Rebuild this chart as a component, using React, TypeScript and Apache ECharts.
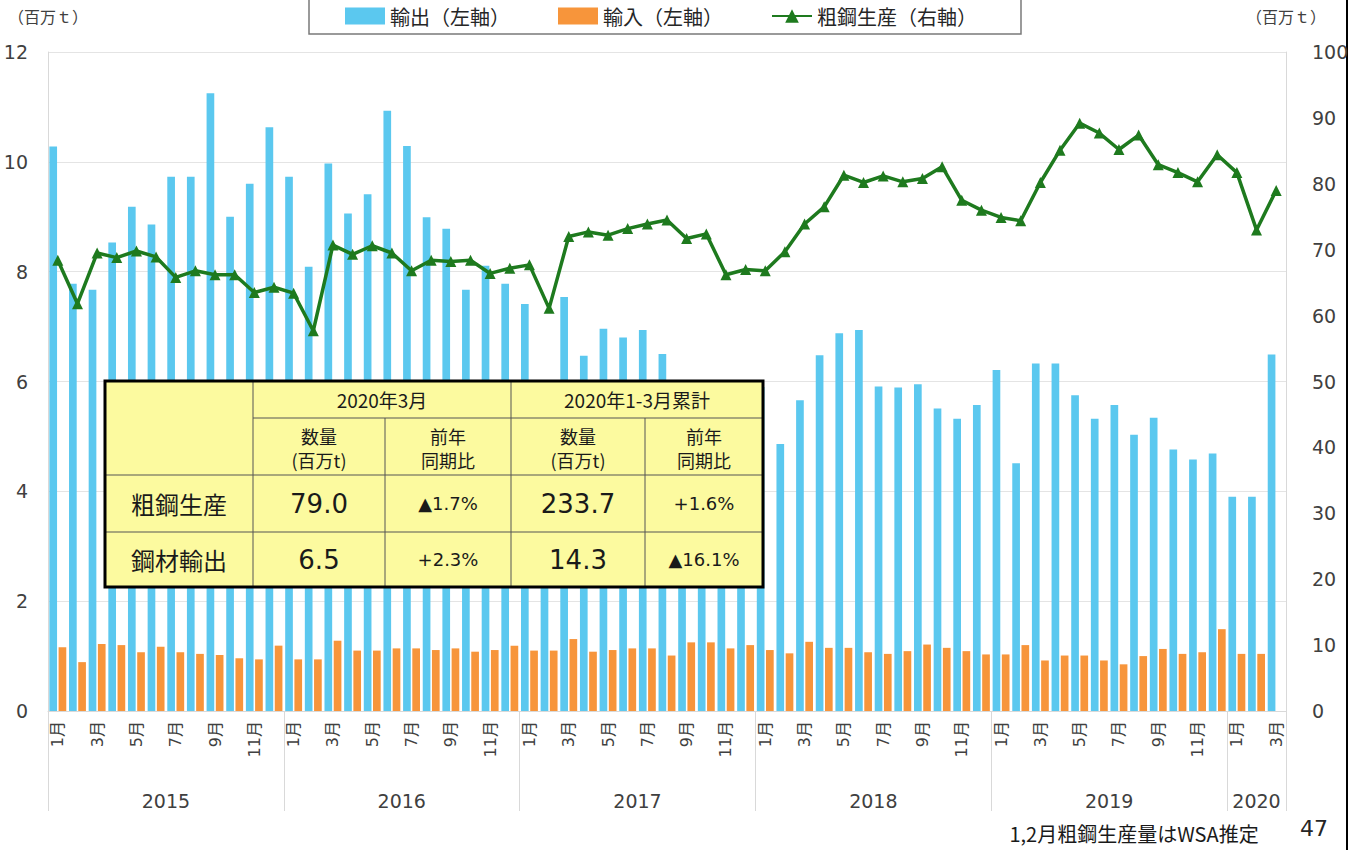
import React, { useEffect, useRef } from "react";
import * as echarts from "echarts";

// ---- data ----
const years = ["2015", "2016", "2017", "2018", "2019", "2020"];
const monthsPerYear = [12, 12, 12, 12, 12, 3];

// 鋼材輸出 (百万t, left axis)
const exportsData = [
  10.28, 7.78, 7.67, 8.53, 9.18, 8.86, 9.73, 9.73, 11.25, 9.0, 9.6, 10.63,
  9.73, 8.09, 9.97, 9.06, 9.41, 10.93, 10.29, 8.99, 8.78, 7.67, 8.11, 7.78,
  7.41, 5.6, 7.54, 6.47, 6.96, 6.8, 6.94, 6.5, 5.6, 5.9, 5.1, 4.6,
  5.9, 4.86, 5.66, 6.48, 6.88, 6.94, 5.91, 5.89, 5.95, 5.51, 5.32, 5.57,
  6.21, 4.51, 6.33, 6.33, 5.75, 5.32, 5.57, 5.03, 5.34, 4.76, 4.58, 4.69,
  3.9, 3.9, 6.49,
];

// 鋼材輸入 (百万t, left axis)
const importsData = [
  1.16, 0.89, 1.22, 1.2, 1.07, 1.17, 1.07, 1.04, 1.02, 0.96, 0.94, 1.19,
  0.94, 0.94, 1.28, 1.1, 1.1, 1.14, 1.14, 1.11, 1.14, 1.08, 1.11, 1.19,
  1.1, 1.1, 1.31, 1.08, 1.11, 1.14, 1.14, 1.01, 1.25, 1.25, 1.14, 1.2,
  1.11, 1.05, 1.26, 1.15, 1.15, 1.07, 1.04, 1.09, 1.21, 1.15, 1.09, 1.03,
  1.03, 1.2, 0.92, 1.01, 1.01, 0.92, 0.85, 1.0, 1.13, 1.04, 1.07, 1.49,
  1.04, 1.04, null,
];

// 粗鋼生産 (百万t, right axis)
const productionData = [
  68.4, 61.8, 69.5, 68.8, 69.8, 68.9, 65.8, 66.8, 66.2, 66.2, 63.5, 64.3,
  63.4, 57.7, 70.7, 69.3, 70.6, 69.5, 66.8, 68.4, 68.2, 68.4, 66.4, 67.2,
  67.7, 61.1, 72.0, 72.7, 72.2, 73.2, 73.9, 74.5, 71.7, 72.4, 66.2, 67.0,
  66.8, 69.7, 73.9, 76.5, 81.3, 80.2, 81.2, 80.3, 80.8, 82.6, 77.5, 76.0,
  74.9, 74.4, 80.2, 85.1, 89.2, 87.7, 85.2, 87.4, 82.9, 81.7, 80.3, 84.4,
  81.7, 73.0, 79.0,
];

const seriesNames = ["輸出（左軸）", "輸入（左軸）", "粗鋼生産（右軸）"];

// summary table
const tableHeader1 = ["2020年3月", "2020年1-3月累計"];
const tableHeader2 = ["数量\n(百万t)", "前年\n同期比", "数量\n(百万t)", "前年\n同期比"];
const tableRowLabels = ["粗鋼生産", "鋼材輸出"];
const tableRowValues = [
  ["79.0", "▲1.7%", "233.7", "+1.6%"],
  ["6.5", "+2.3%", "14.3", "▲16.1%"],
];

const unitLabel = "（百万ｔ）";
const noteText = "1,2月粗鋼生産量はWSA推定";
const pageNumber = "47";

// categories built from years / month counts
const categories: string[] = [];
years.forEach((y, yi) => {
  for (let m = 1; m <= monthsPerYear[yi]; m++) categories.push(`${y}/${m}`);
});
const yearBounds: number[] = [0];
monthsPerYear.forEach((n) => yearBounds.push(yearBounds[yearBounds.length - 1] + n));
const yearCenters = years.map((_, i) => (yearBounds[i] + yearBounds[i + 1]) / 2);

const NUM_FONT = "'DejaVu Sans', 'Noto Sans CJK JP', sans-serif";
const JP_FONT = "'Noto Sans CJK JP', sans-serif";
const CYAN = "#5BC8EF";
const ORANGE = "#F7953B";
const GREEN = "#1E7A1E";
const AXIS_GRAY = "#d9d9d9";
const TEXT = "#404040";
const TABLE_Z = 100;

function buildTable() {
  const cols = [105, 253, 385, 511, 645, 763];
  const rows = [381, 418, 475, 532, 587];
  const els: any[] = [];
  els.push({
    type: "rect",
    z: TABLE_Z,
    shape: { x: cols[0], y: rows[0], width: cols[5] - cols[0], height: rows[4] - rows[0] },
    style: { fill: "#FCFA9F", stroke: null },
  });
  const inner = { stroke: "#555", lineWidth: 1 };
  const vl = (x: number, y1: number, y2: number) =>
    els.push({ type: "line", z: TABLE_Z + 1, shape: { x1: x, y1, x2: x, y2 }, style: inner });
  const hl = (y: number, x1: number, x2: number) =>
    els.push({ type: "line", z: TABLE_Z + 1, shape: { x1, y1: y, x2, y2: y }, style: inner });
  vl(cols[1], rows[0], rows[4]);
  vl(cols[2], rows[1], rows[4]);
  vl(cols[3], rows[0], rows[4]);
  vl(cols[4], rows[1], rows[4]);
  hl(rows[1], cols[1], cols[5]);
  hl(rows[2], cols[0], cols[5]);
  hl(rows[3], cols[0], cols[5]);
  const txt = (t: string, x: number, y: number, fs: number, font = NUM_FONT, lh?: number) =>
    els.push({
      type: "text",
      z: TABLE_Z + 2,
      x,
      y,
      style: {
        text: t,
        fontSize: fs,
        fontFamily: font,
        fill: "#1a1a1a",
        align: "center",
        verticalAlign: "middle",
        lineHeight: lh || fs * 1.2,
      },
    });
  const cx = (i: number) => (cols[i] + cols[i + 1]) / 2;
  const cy = (i: number) => (rows[i] + rows[i + 1]) / 2;
  txt(tableHeader1[0], (cols[1] + cols[3]) / 2, cy(0), 19, JP_FONT);
  txt(tableHeader1[1], (cols[3] + cols[5]) / 2, cy(0), 19, JP_FONT);
  tableHeader2.forEach((t, i) => txt(t, cx(i + 1), cy(1) + 1, 18, JP_FONT, 24));
  tableRowLabels.forEach((t, r) => {
    txt(t, cx(0), cy(2 + r), 24, JP_FONT);
    tableRowValues[r].forEach((v, c) => {
      const big = c % 2 === 0;
      txt(v, cx(c + 1), cy(2 + r), big ? 26 : 18, NUM_FONT);
    });
  });
  els.push({
    type: "rect",
    z: TABLE_Z + 3,
    shape: { x: cols[0], y: rows[0], width: cols[5] - cols[0], height: rows[4] - rows[0] },
    style: { fill: null, stroke: "#000", lineWidth: 3 },
  });
  return els;
}

export default function App() {
  const ref = useRef<HTMLDivElement>(null);
  useEffect(() => {
    if (!ref.current) return;
    const chart = echarts.init(ref.current, undefined, { renderer: "svg" });
    const option: any = {
      animation: false,
      backgroundColor: "#fff",
      textStyle: { fontFamily: NUM_FONT },
      legend: {
        data: [
          { name: seriesNames[0], icon: "rect" },
          { name: seriesNames[1], icon: "rect" },
          { name: seriesNames[2] },
        ],
        left: 309,
        top: -2,
        itemWidth: 40,
        itemHeight: 17,
        itemGap: 48,
        padding: [8, 44, 8, 36],
        borderColor: "#7a7a7a",
        borderWidth: 1.5,
        textStyle: { fontSize: 20, color: "#262626", fontFamily: JP_FONT },
      },
      grid: { left: 48, right: 71, top: 52, bottom: 139, outerBoundsMode: "none" },
      xAxis: [
        {
          type: "category",
          data: categories,
          axisLine: { show: true, lineStyle: { color: AXIS_GRAY, width: 1 } },
          axisTick: { show: false },
          axisLabel: {
            interval: 1,
            rotate: 90,
            fontSize: 16,
            color: TEXT,
            margin: 10,
            fontFamily: NUM_FONT,
            formatter: (v: string) => v.split("/")[1] + "月",
          },
        },
        {
          type: "value",
          min: 0,
          max: yearBounds[yearBounds.length - 1],
          position: "bottom",
          axisLine: { show: false },
          splitLine: { show: false },
          axisTick: {
            show: true,
            length: 100,
            customValues: yearBounds,
            lineStyle: { color: AXIS_GRAY, width: 1 },
          },
          axisLabel: {
            customValues: yearCenters,
            margin: 80,
            fontSize: 19,
            color: TEXT,
            fontFamily: NUM_FONT,
            formatter: (v: number) => {
              const idx = yearCenters.indexOf(v);
              return idx >= 0 ? years[idx] : "";
            },
          },
        },
      ],
      yAxis: [
        {
          type: "value",
          min: 0,
          max: 12,
          interval: 2,
          name: unitLabel,
          nameLocation: "end",
          nameGap: 28,
          nameTextStyle: { fontSize: 16, color: TEXT, fontFamily: JP_FONT },
          axisLine: { show: true, lineStyle: { color: AXIS_GRAY } },
          axisTick: { show: false },
          axisLabel: { fontSize: 19, color: TEXT, margin: 20 },
          splitLine: { show: true, lineStyle: { color: "#e4e4e4", width: 1 } },
        },
        {
          type: "value",
          min: 0,
          max: 100,
          interval: 10,
          position: "right",
          name: unitLabel,
          nameLocation: "end",
          nameGap: 28,
          nameTextStyle: { fontSize: 16, color: TEXT, fontFamily: JP_FONT },
          axisLine: { show: true, lineStyle: { color: AXIS_GRAY } },
          axisTick: { show: false },
          axisLabel: { fontSize: 19, color: TEXT, margin: 26, align: "left" },
          splitLine: { show: false },
        },
      ],
      series: [
        {
          name: seriesNames[0],
          type: "bar",
          data: exportsData,
          itemStyle: { color: CYAN },
          barCategoryGap: "14%",
          barGap: "20%",
          xAxisIndex: 0,
          yAxisIndex: 0,
        },
        {
          name: seriesNames[1],
          type: "bar",
          data: importsData,
          itemStyle: { color: ORANGE },
          xAxisIndex: 0,
          yAxisIndex: 0,
        },
        {
          name: seriesNames[2],
          type: "line",
          data: productionData,
          xAxisIndex: 0,
          yAxisIndex: 1,
          symbol: "triangle",
          symbolSize: 11,
          lineStyle: { color: GREEN, width: 3.5 },
          itemStyle: { color: GREEN },
          z: 5,
        },
      ],
      graphic: [
        ...buildTable(),
        {
          type: "text",
          x: 1134,
          y: 833,
          style: {
            text: noteText,
            fontSize: 20,
            fontFamily: JP_FONT,
            fill: "#1a1a1a",
            align: "center",
            verticalAlign: "middle",
          },
        },
        {
          type: "text",
          x: 1300,
          y: 828,
          style: {
            text: pageNumber,
            fontSize: 22,
            fontFamily: NUM_FONT,
            fill: "#262626",
            align: "left",
            verticalAlign: "middle",
          },
        },
        {
          type: "line",
          shape: { x1: 1347, y1: 0, x2: 1347, y2: 850 },
          style: { stroke: "#000", lineWidth: 2 },
        },
      ],
    };
    chart.setOption(option);
    return () => chart.dispose();
  }, []);
  return (
    <div
      ref={ref}
      style={{ position: "absolute", left: 0, top: 0, width: 1357, height: 850, background: "#fff" }}
    />
  );
}
